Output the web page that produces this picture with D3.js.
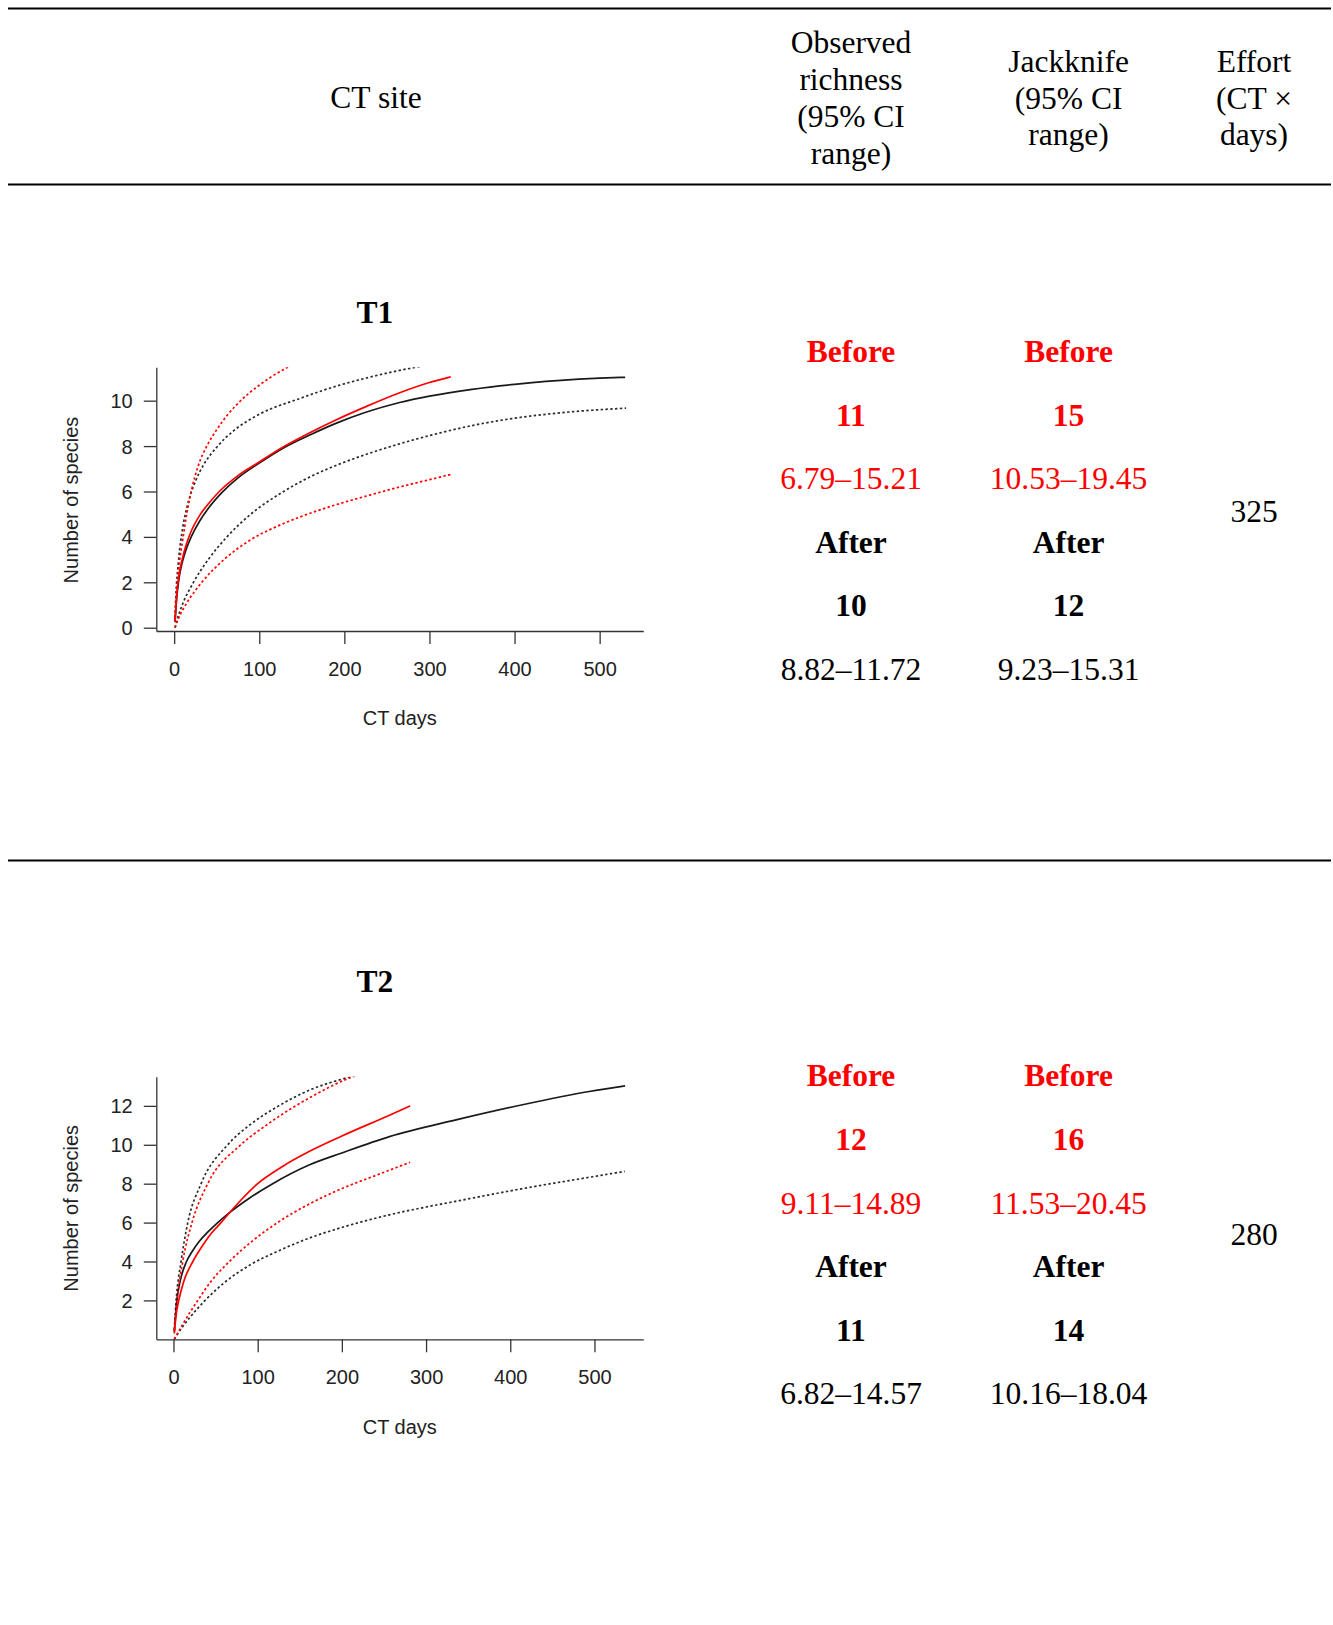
<!DOCTYPE html>
<html>
<head>
<meta charset="utf-8">
<script src="https://cdn.jsdelivr.net/npm/d3@7"></script>
<style>
  html, body { margin: 0; padding: 0; background: #fff; }
  svg { display: block; }
</style>
</head>
<body>
<svg id="chart" width="1333" height="1625"></svg>
<script>
// ------------------------- DATA -------------------------
const headerSite = "CT site";
const headerObserved = ["Observed", "richness", "(95% CI", "range)"];
const headerJackknife = ["Jackknife", "(95% CI", "range)"];
const headerEffort = ["Effort", "(CT ×", "days)"];

const sites = ["T1", "T2"];
const periodLabels = ["Before", "After"];
const observedBefore = ["11", "12"];
const observedBeforeCI = ["6.79–15.21", "9.11–14.89"];
const observedAfter = ["10", "11"];
const observedAfterCI = ["8.82–11.72", "6.82–14.57"];
const jackknifeBefore = ["15", "16"];
const jackknifeBeforeCI = ["10.53–19.45", "11.53–20.45"];
const jackknifeAfter = ["12", "14"];
const jackknifeAfterCI = ["9.23–15.31", "10.16–18.04"];
const effort = ["325", "280"];

const xTicks = [0, 100, 200, 300, 400, 500];
const yTicksT1 = [0, 2, 4, 6, 8, 10];
const yTicksT2 = [2, 4, 6, 8, 10, 12];
const xAxisTitle = "CT days";
const yAxisTitle = "Number of species";

// T1 rarefaction curves: [CT days, number of species]
const t1AfterMean = [[1,0.25],[3,1.3],[5,2.0],[10,2.95],[15,3.55],[20,4.0],[30,4.7],[40,5.25],[56,5.95],[75,6.6],[100,7.25],[130,7.95],[160,8.5],[190,9.0],[226,9.5],[265,9.92],[300,10.2],[350,10.5],[400,10.72],[450,10.88],[500,10.99],[530,11.03]];
const t1AfterUpper = [[1,0.45],[2,1.4],[5,2.9],[10,4.4],[15,5.3],[25,6.45],[35,7.2],[50,7.95],[70,8.68],[100,9.4],[148,10.1],[187,10.6],[226,11.0],[281,11.45],[300,11.57]];
const t1AfterLower = [[1,0],[3,0.3],[6,0.65],[10,1.05],[22.7,2.0],[40,3.0],[62,4.0],[90,5.0],[128.6,6.0],[160,6.65],[187,7.1],[226,7.64],[265,8.1],[304,8.5],[347,8.88],[410,9.28],[470,9.52],[531,9.67]];
const t1BeforeMean = [[1,0.25],[3,1.45],[5,2.15],[10,3.1],[15,3.75],[20,4.25],[30,4.95],[40,5.45],[53,6.0],[75,6.7],[100,7.3],[130,8.0],[160,8.6],[190,9.15],[226,9.75],[265,10.35],[300,10.8],[325,11.05]];
const t1BeforeUpper = [[1,0.45],[2,1.2],[5,2.5],[10,3.85],[15,5.05],[20.6,6.1],[28,7.1],[38.9,8.04],[50,8.72],[63.2,9.4],[75,9.88],[87.6,10.32],[100,10.68],[112,11.0],[132.8,11.46],[150,11.8]];
const t1BeforeLower = [[1,0],[5,0.4],[15,1.1],[32.5,2.0],[60,3.05],[89,3.85],[120,4.45],[148,4.88],[187,5.38],[226,5.8],[265,6.2],[300,6.52],[325,6.75]];

// T2 rarefaction curves
const t2AfterMean = [[1,0.4],[4,2.0],[8,3.0],[15,3.95],[22,4.5],[30,5.0],[40,5.48],[52.6,6.0],[64,6.42],[90,7.25],[117.8,8.0],[161,8.96],[200,9.58],[256.5,10.42],[335.6,11.28],[414.6,12.06],[493.7,12.74],[536.4,13.03]];
const t2AfterUpper = [[1,0.5],[3.2,2.0],[9,4.0],[17,6.0],[32.8,8.0],[64.4,10.0],[90,11.0],[125,12.0],[161,12.8],[210,13.5],[230,13.75]];
const t2AfterLower = [[1,0],[10,0.6],[20,1.15],[38.7,2.05],[60,2.9],[90,3.8],[125,4.55],[161,5.2],[200,5.75],[256.5,6.4],[300,6.8],[336,7.1],[415,7.75],[494,8.33],[536,8.63]];
const t2BeforeMean = [[1,0.3],[3,1.2],[6.3,2.0],[12,2.95],[23,4.0],[35,4.85],[45,5.45],[56.5,6.0],[64,6.38],[80,7.15],[100,8.0],[130,8.9],[161,9.65],[200,10.45],[256.5,11.52],[281,12.0]];
const t2BeforeUpper = [[1,0.4],[4.3,2.0],[11,4.0],[22,6.0],[40.7,8.0],[80,10.0],[110,11.0],[145,12.0],[161,12.4],[210,13.45],[230,13.75]];
const t2BeforeLower = [[1,0],[10,0.7],[28.9,2.0],[45,3.0],[66.4,4.0],[95,5.1],[123.7,6.0],[161,6.95],[200,7.75],[240,8.42],[281,9.1]];

// ------------------------- LAYOUT -------------------------
const svg = d3.select("#chart");
const SERIF = "'Liberation Serif', 'Times New Roman', Times, serif";
const SANS = "'Liberation Sans', Arial, Helvetica, sans-serif";
const FS = 31.5;
const RED = "#ff0000";

// horizontal rules
const ruleX0 = 8, ruleX1 = 1331;
[8.5, 184.5, 860.5].forEach(y => {
  svg.append("line").attr("x1", ruleX0).attr("x2", ruleX1).attr("y1", y).attr("y2", y)
    .attr("stroke", "#000").attr("stroke-width", 2);
});

function txt(x, y, s, opts = {}) {
  return svg.append("text").attr("x", x).attr("y", y)
    .attr("text-anchor", "middle").attr("dominant-baseline", "central")
    .attr("font-family", opts.family || SERIF)
    .attr("font-size", opts.size || FS)
    .attr("font-weight", opts.bold ? "bold" : "normal")
    .attr("fill", opts.color || "#000")
    .text(s);
}

const colSite = 376, colObs = 851, colJack = 1068.6, colEff = 1254;
// header
txt(colSite, 97.4, headerSite);
headerObserved.forEach((s, i) => txt(colObs, 42.5 + i * 37, s));
headerJackknife.forEach((s, i) => txt(colJack, 61.2 + i * 36.8, s));
headerEffort.forEach((s, i) => txt(colEff, 61.2 + i * 36.8, s));

// rows
const rowStart = [351.4, 1075.9];
const rowStep = 63.6;
const titleY = [312, 981.6];
const effortY = [511, 1234.5];

sites.forEach((site, r) => {
  const y0 = rowStart[r];
  const obsVals = [
    [periodLabels[0], true, RED], [observedBefore[r], true, RED], [observedBeforeCI[r], false, RED],
    [periodLabels[1], true, "#000"], [observedAfter[r], true, "#000"], [observedAfterCI[r], false, "#000"]
  ];
  const jackVals = [
    [periodLabels[0], true, RED], [jackknifeBefore[r], true, RED], [jackknifeBeforeCI[r], false, RED],
    [periodLabels[1], true, "#000"], [jackknifeAfter[r], true, "#000"], [jackknifeAfterCI[r], false, "#000"]
  ];
  obsVals.forEach((v, i) => txt(colObs, y0 + i * rowStep, v[0], { bold: v[1], color: v[2] }));
  jackVals.forEach((v, i) => txt(colJack, y0 + i * rowStep, v[0], { bold: v[1], color: v[2] }));
  txt(colEff, effortY[r], effort[r]);
  txt(colSite - 1, titleY[r], site, { bold: true });
});

// ------------------------- CHARTS -------------------------
const charts = [
  {
    left: 156.3, right: 643.3, top: 367.3, bottom: 631,
    xDomain: [-21, 551.3], yDomain: [-0.145, 11.47], yTicks: yTicksT1,
    xLabelY: 669.3, xTitleY: 718.3, yTitleY: 500,
    series: [
      { d: t1AfterUpper, c: "#2a2a2a", dash: true },
      { d: t1AfterLower, c: "#2a2a2a", dash: true },
      { d: t1AfterMean, c: "#1a1a1a", dash: false },
      { d: t1BeforeUpper, c: RED, dash: true },
      { d: t1BeforeLower, c: RED, dash: true },
      { d: t1BeforeMean, c: RED, dash: false }
    ]
  },
  {
    left: 156.3, right: 643.3, top: 1076.7, bottom: 1339.3,
    xDomain: [-20.4, 558], yDomain: [0, 13.5], yTicks: yTicksT2,
    xLabelY: 1377.3, xTitleY: 1426.7, yTitleY: 1208.3,
    series: [
      { d: t2AfterUpper, c: "#2a2a2a", dash: true },
      { d: t2AfterLower, c: "#2a2a2a", dash: true },
      { d: t2AfterMean, c: "#1a1a1a", dash: false },
      { d: t2BeforeUpper, c: RED, dash: true },
      { d: t2BeforeLower, c: RED, dash: true },
      { d: t2BeforeMean, c: RED, dash: false }
    ]
  }
];

charts.forEach((ch, k) => {
  const x = d3.scaleLinear().domain(ch.xDomain).range([ch.left, ch.right]);
  const y = d3.scaleLinear().domain(ch.yDomain).range([ch.bottom, ch.top]);

  const clipId = "clip" + k;
  svg.append("clipPath").attr("id", clipId).append("rect")
    .attr("x", ch.left).attr("y", ch.top).attr("width", ch.right - ch.left).attr("height", ch.bottom - ch.top);

  const line = d3.line().x(d => x(d[0])).y(d => y(d[1])).curve(d3.curveMonotoneX);
  const g = svg.append("g").attr("clip-path", `url(#${clipId})`);
  ch.series.forEach(s => {
    g.append("path").attr("d", line(s.d)).attr("fill", "none")
      .attr("stroke", s.c).attr("stroke-width", 1.7)
      .attr("stroke-dasharray", s.dash ? "2.4,2.4" : null)
      .attr("stroke-linecap", "butt");
  });

  // axes
  const ax = svg.append("g").attr("transform", `translate(0,${ch.bottom})`)
    .call(d3.axisBottom(x).tickValues(xTicks).tickSizeInner(13).tickSizeOuter(0).tickFormat(d3.format("d")));
  const ay = svg.append("g").attr("transform", `translate(${ch.left},0)`)
    .call(d3.axisLeft(y).tickValues(ch.yTicks).tickSizeInner(12.5).tickSizeOuter(0).tickFormat(d3.format("d")));
  [ax, ay].forEach(a => {
    a.selectAll("path.domain").attr("stroke", "#333").attr("stroke-width", 1.3);
    a.selectAll(".tick line").attr("stroke", "#333").attr("stroke-width", 1.3);
    a.selectAll(".tick text").attr("font-family", SANS).attr("font-size", 20).attr("fill", "#222")
      .attr("dy", null).attr("dominant-baseline", "central");
  });
  ax.selectAll(".tick text").attr("y", ch.xLabelY - ch.bottom);
  ay.selectAll(".tick text").attr("x", -(ch.left - 132.7)).attr("text-anchor", "end");

  svg.append("text").attr("x", 399.8).attr("y", ch.xTitleY)
    .attr("text-anchor", "middle").attr("dominant-baseline", "central")
    .attr("font-family", SANS).attr("font-size", 20).attr("fill", "#222").text(xAxisTitle);
  svg.append("text").attr("transform", `translate(71,${ch.yTitleY}) rotate(-90)`)
    .attr("text-anchor", "middle").attr("dominant-baseline", "central")
    .attr("font-family", SANS).attr("font-size", 20).attr("fill", "#222").text(yAxisTitle);
});
</script>
</body>
</html>
